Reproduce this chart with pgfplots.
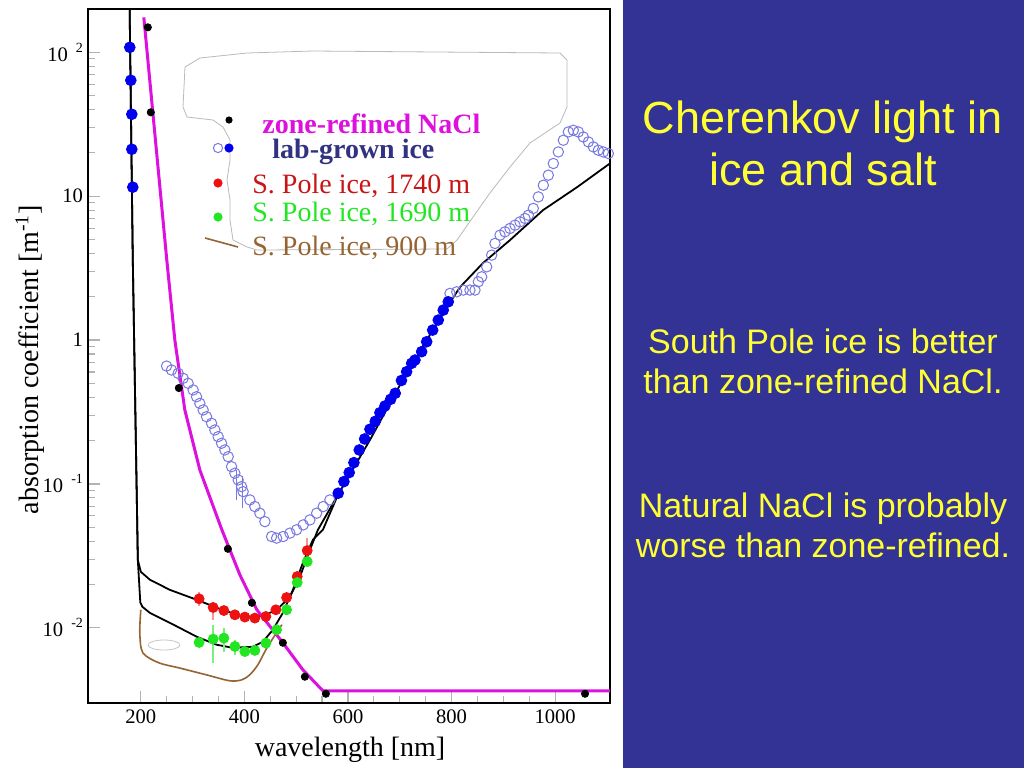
\documentclass[border=0pt]{standalone}
\usepackage{pgfplots}
\pgfplotsset{compat=1.18}
\usepackage{fontspec}
\setmainfont{Liberation Serif}
\newfontfamily\arial{Liberation Sans}
\definecolor{panelblue}{RGB}{51,51,150}
\definecolor{yel}{RGB}{255,255,51}
\definecolor{mag}{RGB}{221,17,221}
\definecolor{navy}{RGB}{50,50,130}
\definecolor{pred}{RGB}{238,17,17}
\definecolor{tred}{RGB}{200,20,20}
\definecolor{pgreen}{RGB}{34,230,34}
\definecolor{pblue}{RGB}{0,0,238}
\definecolor{openb}{RGB}{120,120,225}
\definecolor{brn}{RGB}{150,100,50}
\begin{document}
\begin{tikzpicture}
\begin{scope}[x=0.5pt,y=-0.5pt]
\fill[white] (0,0) rectangle (1024,768);
\fill[panelblue] (623,0) rectangle (1024,768);
\node[text=yel,font=\arial\fontsize{22.5}{26}\selectfont,align=center] at (823,143) {Cherenkov light in\\ice and salt};
\node[text=yel,font=\arial\fontsize{17}{20}\selectfont,align=center] at (823,361) {South Pole ice is better\\than zone-refined NaCl.};
\node[text=yel,font=\arial\fontsize{17}{20}\selectfont,align=center] at (823,525) {Natural NaCl is probably\\worse than zone-refined.};
% free-hand outline around the legend
\draw[gray!55,line width=0.4pt] (185,67) -- (200,58) -- (247,53) -- (313,51) -- (560,53) -- (567,60) -- (567,107) -- (560,123) -- (530,143) -- (510,167) -- (490,193) -- (473,217) -- (457,240) -- (447,249) -- (257,250) -- (247,247) -- (233,240) -- (230,220) -- (230,200) -- (227,180) -- (230,160) -- (230,140) -- (223,127) -- (213,120) -- (187,117) -- (183,107) -- cycle;
\draw[gray!45,line width=0.4pt] (164,645) ellipse (8pt and 2.5pt);
% legend
\fill[black] (229,120) circle (1.8pt);
\draw[openb,line width=0.5pt] (218,148) circle (2.3pt);
\fill[pblue] (229,148) circle (2.3pt);
\fill[pred] (218,183) circle (2.3pt);
\fill[pgreen] (218,217) circle (2.3pt);
\draw[brn,line width=0.8pt] (205,238) -- (238,247);
\node[anchor=west,inner sep=0pt,text=mag,font=\fontsize{14}{16}\selectfont\bfseries] at (262,124) {zone-refined NaCl};
\node[anchor=west,inner sep=0pt,text=navy,font=\fontsize{14}{16}\selectfont\bfseries] at (272,152) {lab-grown ice};
\node[anchor=west,inner sep=0pt,text=tred,font=\fontsize{14}{16}\selectfont] at (252,186) {S. Pole ice, 1740 m};
\node[anchor=west,inner sep=0pt,text=pgreen,font=\fontsize{14}{16}\selectfont] at (252,214) {S. Pole ice, 1690 m};
\node[anchor=west,inner sep=0pt,text=brn,font=\fontsize{14}{16}\selectfont] at (252,248) {S. Pole ice, 900 m};
\end{scope}
\begin{axis}[
 at={(44pt,-351.5pt)}, anchor=south west,
 width=261pt, height=347pt, scale only axis,
 ymode=log, xmin=98, xmax=1106, ymin=0.003, ymax=200,
 xtick={200,400,600,800,1000}, xticklabels={200,400,600,800,1000},
 minor x tick num=3,
 ytick={0.01,0.1,1,10,100},
 yticklabels={{10\hspace{4pt}\raisebox{4.5pt}{\fontsize{7}{8}\selectfont -2}},{10\hspace{4pt}\raisebox{4.5pt}{\fontsize{7}{8}\selectfont -1}},1,10,{10\hspace{4pt}\raisebox{4.5pt}{\fontsize{7}{8}\selectfont 2}}},
 tick align=inside, tick pos=left,
 tick style={gray!60, line width=0.6pt},
 major tick length=6pt, minor tick length=3.5pt,
 axis line style={line width=1.3pt},
 /pgf/number format/assume math mode=true,
 ticklabel style={font=\fontsize{10.3}{12}\selectfont},
 yticklabel style={xshift=1pt},
 xlabel={wavelength [nm]}, ylabel={absorption coefficient [m\textsuperscript{-1}]},
 label style={font=\fontsize{14}{16}\selectfont},
 xlabel style={at={(axis description cs:0.502,-0.068)},anchor=center},
 ylabel style={at={(axis description cs:-0.111,0.495)},anchor=center},
 unbounded coords=jump,
]
% open circles (lab-grown ice)
\addplot[only marks, mark=o, mark size=2.6pt, mark options={openb, line width=0.5pt}] coordinates {
(249.7,0.6597) (259.3,0.619) (272.1,0.5870) (281.7,0.542) (291.4,0.5004) (301,0.4498) (307.6,0.4036) (314,0.3631) (320.4,0.3266) (326.9,0.2933) (336.6,0.2639) (343,0.2371) (349.3,0.2131) (355.9,0.1917) (362.3,0.1722) (368.7,0.1547) (375.2,0.1318) (381.6,0.1187) (388,0.1066) (394.6,0.0958) (397.6,0.0884) (410.6,0.0774) (420.2,0.0696) (429.9,0.0626) (439.6,0.0547) (452.5,0.0431) (462.2,0.0420) (474.9,0.0431) (487.9,0.0455) (500.8,0.0480) (513.6,0.0519) (526.5,0.0562) (539.5,0.0626) (552.2,0.0696) (565.1,0.0774)
(797,2.110) (810,2.165) (822.7,2.225) (835.6,2.225) (845.3,2.225) (851.7,2.541) (858.2,2.752) (867.9,3.228) (877.5,3.894) (883.9,4.694) (893.6,5.361) (903.2,5.651) (912.9,5.967) (922.6,6.29) (932.2,6.63) (941.9,7.0) (948.3,7.38) (957.9,8.22) (967.6,9.89) (977.3,11.92) (986.9,14.0) (996.6,16.87) (1006.2,20.3) (1015.9,24.48) (1025.6,27.96) (1035.2,28.73) (1044.9,27.96) (1054.5,25.81) (1064.2,23.84) (1073.8,22.0) (1083.5,20.86) (1093.2,20.3) (1102.8,19.8)
};
\addplot[openb, line width=0.5pt] coordinates {(385.5,0.125) (385.5,0.0774) (385.5,nan) (397,0.1137) (397,0.0681)};
% black model curves
\addplot[black, line width=0.9pt] coordinates {
(178.2,230) (184.5,3.59) (192.3,0.0774) (194.2,0.0297) (200,0.0245) (217.4,0.0216) (256,0.01836) (308.2,0.01565) (346.8,0.01377) (397.1,0.01192) (435.7,0.01211) (462.8,0.01334) (487.9,0.01641) (507.2,0.0226) (526.5,0.0348) (542,0.048) (580.6,0.0839) (642.4,0.202) (700.4,0.487) (783.5,1.54) (816.3,2.33) (860.7,3.43) (912.9,4.95) (976.7,8.0) (1042.4,11.55) (1106,16.9)};
\addplot[black, line width=0.9pt] coordinates {
(178.2,230) (184.5,3.59) (192.3,0.0774) (194.2,0.0297) (199,0.0150) (203,0.0140) (217.4,0.01271) (256,0.01083) (308.2,0.00866) (346.8,0.00762) (377.7,0.00726) (416.4,0.00738) (435.7,0.0080) (455,0.00968) (474.3,0.0127) (493.7,0.01836) (513,0.0283) (532.3,0.0409) (551.6,0.048) (580.6,0.0839)};
% brown curve (900 m)
\addplot[brn, line width=0.8pt, smooth, tension=0.5] coordinates {
(200,0.01334) (198,0.00923) (203.9,0.0067) (234.8,0.00571) (273.4,0.00527) (325.6,0.00472) (372,0.00428) (395.1,0.00435) (410.6,0.00472) (426,0.00553) (441.5,0.00704) (457,0.00866) (472.4,0.0105)};
% magenta fit (zone-refined NaCl)
\addplot[mag, line width=1.5pt] coordinates {
(205.8,175) (250.2,3.59) (265.7,1.0) (285,0.3266) (314,0.125) (356.5,0.048) (391.3,0.02333) (424.1,0.01334) (474.3,0.00787) (513,0.0051) (551.6,0.00365) (1106,0.00365)};
% error bars
\addplot[pred!45, line width=0.8pt] coordinates {(312.6,0.01778) (312.6,0.01422) (312.6,nan) (339.7,0.01517) (339.7,0.01137) (339.7,nan) (521.3,0.0422) (521.3,0.0316)};
\addplot[pgreen!60, line width=0.8pt] coordinates {(339.7,0.0105) (339.7,0.00571) (339.7,nan) (360.4,0.0100) (360.4,0.00681) (360.4,nan) (381.6,0.00826) (381.6,0.00649)};
% red points (1740 m)
\addplot[only marks, mark=*, mark size=2.5pt, mark options={pred, draw=pred}] coordinates {
(312.6,0.0159) (339.7,0.01384) (360.4,0.01318) (381.6,0.01231) (400.9,0.01187) (420.2,0.01168) (441.5,0.01198) (460.8,0.01334) (481.5,0.01623) (502,0.02272) (521.3,0.0344)};
% green points (1690 m)
\addplot[only marks, mark=*, mark size=2.5pt, mark options={pgreen, draw=pgreen}] coordinates {
(312.6,0.00791) (339.7,0.00834) (360.4,0.00848) (381.6,0.00742) (400.9,0.00684) (420.2,0.00696) (441.5,0.00783) (462.2,0.00968) (481.5,0.01334) (502,0.02064) (521.3,0.02887)};
% blue filled (lab-grown ice)
\addplot[only marks, mark=*, mark size=2.7pt, mark options={pblue, draw=pblue}] coordinates {
(178.7,108.3) (180.7,63.9) (182.6,37.1) (182.6,21.2) (184.5,11.55)
(581.2,0.0862) (592.2,0.1038) (602.4,0.1199) (611.5,0.1406) (621.8,0.1722) (632.2,0.2054) (642.4,0.2399) (652.7,0.2724) (661.7,0.3126) (671.4,0.348) (682.4,0.3873) (691.3,0.4266) (703.3,0.5236) (713.3,0.6026) (723,0.689) (729.4,0.726) (742.3,0.830) (752,0.973) (763.6,1.173) (774.4,1.377) (784,1.615) (793.7,1.845)};
% black points (zone-refined NaCl)
\addplot[only marks, mark=*, mark size=1.8pt, mark options={black}] coordinates {
(213.5,149.2) (219.3,38.3) (273.4,0.464) (368.1,0.0354) (414.5,0.01492) (474.3,0.00787) (516.8,0.00457) (557.4,0.00348) (1057.8,0.00348)};
\end{axis}
\end{tikzpicture}
\end{document}
